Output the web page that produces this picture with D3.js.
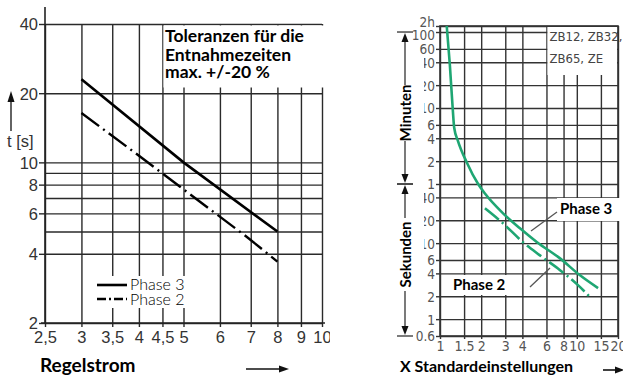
<!DOCTYPE html>
<html>
<head>
<meta charset="utf-8">
<script src="https://cdn.jsdelivr.net/npm/d3@7"></script>
<style>
  body { margin: 0; background: #fff; }
  svg { display: block; }
</style>
</head>
<body>
<script>
// ---- left chart data (Regelstrom vs. t [s]) ----
const leftXTicks = [2.5, 3, 3.5, 4, 4.5, 5, 6, 7, 8, 9, 10];
const leftXLabels = ['2,5', '3', '3,5', '4', '4,5', '5', '6', '7', '8', '9', '10'];
const leftYGrid = [2, 4, 5, 6, 7, 8, 9, 10, 20, 40];
const leftYLabels = [40, 20, 10, 8, 6, 4, 2];
const phase3Left = [[3, 23], [5, 10], [8, 5]];
const phase2Left = [[3, 16.4], [3.9, 11.1], [6.9, 4.7], [8, 3.7]];
const noteLines = ['Toleranzen für die', 'Entnahmezeiten', 'max. +/-20 %'];

// ---- right chart data (X Standardeinstellungen vs. time in seconds) ----
const rightXTicks = [1, 1.5, 2, 3, 4, 6, 8, 10, 15, 20];
const rightYTicks = [7200, 6000, 3600, 2400, 1200, 600, 360, 240, 120, 60, 40, 20, 10, 6, 4, 2, 1, 0.6];
const rightYLabels = ['2h', '100', '60', '40', '20', '10', '6', '4', '2', '1', '40', '20', '10', '6', '4', '2', '1', '0.6'];
const phase3Right = [[1.12, 7200], [1.18, 2230], [1.24, 570], [1.27, 330], [1.35, 224], [1.57, 115],
  [1.9, 60], [2.13, 45], [2.89, 24.7], [3.84, 15.7], [5.12, 10.3], [7.54, 6.3], [10.5, 3.8], [14.3, 2.56]];
const phase2Right = [[2.13, 28.7], [2.89, 18.2], [4.04, 10.3], [5.38, 6.9], [7.54, 4.41], [10.2, 2.8], [12.5, 1.95]];
const boxLines = ['ZB12, ZB32,', 'ZB65, ZE'];

const svg = d3.select('body').append('svg')
  .attr('width', 623)
  .attr('height', 378);

const bold = 'Lato, "Open Sans", sans-serif';
const green = '#1fa673';

function arrowHead(g, x, y, dir, len, half) {
  // dir: 'up' | 'down' | 'right'
  let pts;
  if (dir === 'up') pts = [[x, y], [x - half, y + len], [x + half, y + len]];
  else if (dir === 'down') pts = [[x, y], [x - half, y - len], [x + half, y - len]];
  else pts = [[x, y], [x - len, y - half], [x - len, y + half]];
  g.append('path').attr('d', d3.line()(pts) + 'Z').attr('fill', '#111');
}

// ================= LEFT CHART =================
svg.append('clipPath').attr('id', 'clipL')
  .append('rect').attr('x', 0).attr('y', 0).attr('width', 330).attr('height', 378);
const gL = svg.append('g').attr('clip-path', 'url(#clipL)');

const xL = d3.scaleLog().domain([2.5, 10]).range([45, 322]);
const yL = d3.scaleLog().domain([2, 40]).range([323, 24]);
const wL = xL.range()[1] - xL.range()[0];
const hL = yL.range()[0] - yL.range()[1];

// horizontal grid
gL.append('g')
  .attr('transform', 'translate(' + xL.range()[0] + ',0)')
  .call(d3.axisLeft(yL).tickValues(leftYGrid).tickSizeInner(-wL).tickSizeOuter(0).tickFormat(''))
  .call(g => g.select('.domain').remove())
  .selectAll('line').attr('stroke', '#2a2a2a').attr('stroke-width', 1.4);

// vertical grid
gL.append('g')
  .attr('transform', 'translate(0,' + yL.range()[0] + ')')
  .call(d3.axisBottom(xL).tickValues(leftXTicks).tickSizeInner(-hL).tickSizeOuter(0).tickFormat(''))
  .call(g => g.select('.domain').remove())
  .selectAll('line').attr('stroke', '#2a2a2a').attr('stroke-width', 1.4);

// white note box
gL.append('rect')
  .attr('x', xL(4.5) + 1).attr('y', yL(40) + 1.5)
  .attr('width', 170).attr('height', 62)
  .attr('fill', '#fff');
gL.selectAll('text.note')
  .data(noteLines)
  .enter()
  .append('text')
  .attr('class', 'note')
  .attr('x', 165)
  .attr('y', (d, i) => [42, 61, 78][i])
  .attr('font-family', bold)
  .attr('font-weight', 700)
  .attr('font-size', 17.5)
  .attr('fill', '#000')
  .text(d => d);

// y axis labels + ticks
const yAxL = gL.append('g')
  .attr('transform', 'translate(' + xL.range()[0] + ',0)')
  .call(d3.axisLeft(yL).tickValues(leftYLabels).tickSize(6).tickFormat(d3.format('d')));
yAxL.select('.domain').remove();
yAxL.selectAll('line').attr('stroke', '#2a2a2a').attr('stroke-width', 1.4);
yAxL.selectAll('text')
  .attr('x', -7).attr('dy', '0.36em')
  .attr('font-family', '"Liberation Sans", Arial, sans-serif')
  .attr('font-size', 16.5)
  .attr('fill', '#333');

// x axis labels + ticks
const xAxL = gL.append('g')
  .attr('transform', 'translate(0,' + yL.range()[0] + ')')
  .call(d3.axisBottom(xL).tickValues(leftXTicks).tickSize(4).tickFormat((d, i) => leftXLabels[i]));
xAxL.select('.domain').remove();
xAxL.selectAll('line').attr('stroke', '#2a2a2a').attr('stroke-width', 1.4);
xAxL.selectAll('text')
  .attr('y', 8).attr('dy', '0.71em')
  .attr('font-family', '"Liberation Sans", Arial, sans-serif')
  .attr('font-size', 16.5)
  .attr('fill', '#333');

// frame lines
gL.append('line')
  .attr('x1', xL(2.5)).attr('x2', xL(2.5)).attr('y1', 7).attr('y2', yL(2))
  .attr('stroke', '#222').attr('stroke-width', 1.6);
gL.append('line')
  .attr('x1', xL(2.5) - 4).attr('x2', xL(10) + 3).attr('y1', yL(2)).attr('y2', yL(2))
  .attr('stroke', '#222').attr('stroke-width', 1.6);

// curves
const lineL = d3.line().x(d => xL(d[0])).y(d => yL(d[1]));
gL.append('path').datum(phase3Left)
  .attr('d', lineL).attr('fill', 'none')
  .attr('stroke', '#000').attr('stroke-width', 2.6);
gL.append('path').datum(phase2Left)
  .attr('d', lineL).attr('fill', 'none')
  .attr('stroke', '#000').attr('stroke-width', 2.4)
  .attr('stroke-dasharray', '22,5,2,5');

// legend
gL.append('rect').attr('x', 95).attr('y', 276).attr('width', 92).attr('height', 32).attr('fill', '#fff');
const legend = [{ name: 'Phase 3', dash: null }, { name: 'Phase 2', dash: '9,3,2,3' }];
legend.forEach((d, i) => {
  const y = 285 + i * 14;
  gL.append('line')
    .attr('x1', 97).attr('x2', 127).attr('y1', y).attr('y2', y)
    .attr('stroke', '#000').attr('stroke-width', 2.6)
    .attr('stroke-dasharray', d.dash);
  gL.append('text')
    .attr('x', 130).attr('y', 290 + i * 15)
    .attr('font-family', bold)
    .attr('font-weight', 300)
    .attr('font-size', 16)
    .attr('fill', '#000')
    .text(d.name);
});

// axis titles
gL.append('text')
  .attr('x', 7).attr('y', 147)
  .attr('font-family', '"Liberation Sans", Arial, sans-serif')
  .attr('font-size', 16.5).attr('fill', '#333')
  .text('t [s]');
gL.append('line').attr('x1', 11).attr('x2', 11).attr('y1', 100).attr('y2', 131)
  .attr('stroke', '#222').attr('stroke-width', 1.4);
arrowHead(gL, 11, 91, 'up', 11, 3.5);

gL.append('text')
  .attr('x', 40).attr('y', 372)
  .attr('font-family', bold).attr('font-weight', 700)
  .attr('font-size', 19).attr('fill', '#000')
  .text('Regelstrom');
gL.append('line').attr('x1', 246).attr('x2', 280).attr('y1', 369).attr('y2', 369)
  .attr('stroke', '#111').attr('stroke-width', 1.6);
arrowHead(gL, 289, 369, 'right', 10, 3.5);

// ================= RIGHT CHART =================
const gR = svg.append('g');
const xR = d3.scaleLog().domain([1, 20]).range([440, 618]);
const yR = d3.scaleLog().domain([0.6, 7200]).range([336, 26]);
const wR = xR.range()[1] - xR.range()[0];
const hR = yR.range()[0] - yR.range()[1];

gR.append('g')
  .attr('transform', 'translate(' + xR.range()[0] + ',0)')
  .call(d3.axisLeft(yR).tickValues(rightYTicks).tickSizeInner(-wR).tickSizeOuter(0).tickFormat(''))
  .call(g => g.select('.domain').remove())
  .selectAll('line').attr('stroke', '#333').attr('stroke-width', 1.4);

gR.append('g')
  .attr('transform', 'translate(0,' + yR.range()[0] + ')')
  .call(d3.axisBottom(xR).tickValues(rightXTicks).tickSizeInner(-hR).tickSizeOuter(0).tickFormat(''))
  .call(g => g.select('.domain').remove())
  .selectAll('line').attr('stroke', '#333').attr('stroke-width', 1.4);

// ZB box
gR.append('rect')
  .attr('x', xR(6) + 1).attr('y', yR(7200) + 1)
  .attr('width', xR(20) - xR(6) - 2).attr('height', 48)
  .attr('fill', '#fff');
gR.selectAll('text.zb')
  .data(boxLines)
  .enter()
  .append('text')
  .attr('class', 'zb')
  .attr('x', xR(6) + 3)
  .attr('y', (d, i) => 41 + i * 22)
  .attr('font-family', '"Liberation Sans Narrow", "DejaVu Sans Condensed", sans-serif')
  .attr('font-size', 13)
  .attr('fill', '#444')
  .text(d => d);

// y labels
const yAxR = gR.append('g')
  .attr('transform', 'translate(' + xR.range()[0] + ',0)')
  .call(d3.axisLeft(yR).tickValues(rightYTicks).tickSize(4).tickFormat((d, i) => rightYLabels[i]));
yAxR.select('.domain').remove();
yAxR.selectAll('line').attr('stroke', '#333').attr('stroke-width', 1.4);
yAxR.selectAll('text')
  .attr('x', -5)
  .attr('dy', (d, i) => i === 0 ? '0.02em' : i === 1 ? '0.55em' : '0.36em')
  .attr('font-family', '"DejaVu Sans Condensed", "Liberation Sans Narrow", sans-serif')
  .attr('font-size', 13.5)
  .attr('fill', '#555');

// x labels
const xAxR = gR.append('g')
  .attr('transform', 'translate(0,' + yR.range()[0] + ')')
  .call(d3.axisBottom(xR).tickValues(rightXTicks).tickSize(3).tickFormat(d => String(d)));
xAxR.select('.domain').remove();
xAxR.selectAll('line').attr('stroke', '#333').attr('stroke-width', 1.4);
xAxR.selectAll('text')
  .attr('y', 5).attr('dy', '0.71em')
  .attr('font-family', '"Liberation Sans Narrow", "DejaVu Sans Condensed", sans-serif')
  .attr('font-size', 14)
  .attr('fill', '#555');

// frame
gR.append('rect')
  .attr('x', xR(1)).attr('y', yR(7200))
  .attr('width', wR).attr('height', hR)
  .attr('fill', 'none').attr('stroke', '#333').attr('stroke-width', 1.6);

// masks over first digits of the labels next to the rotated titles
gR.append('rect').attr('x', 413).attr('y', yR(2400) - 7).attr('width', 11).attr('height', yR(600) - yR(2400) + 14).attr('fill', '#fff');
gR.append('rect').attr('x', 413).attr('y', yR(40) - 7).attr('width', 11).attr('height', yR(10) - yR(40) + 14).attr('fill', '#fff');

// range brackets
function bracket(top, bottom, label, gapTop, gapBottom) {
  const x = 405;
  const yt = yR(top), yb = yR(bottom);
  gR.append('line').attr('x1', 397).attr('x2', 413).attr('y1', yt).attr('y2', yt)
    .attr('stroke', '#333').attr('stroke-width', 1.3);
  gR.append('line').attr('x1', 397).attr('x2', 413).attr('y1', yb).attr('y2', yb)
    .attr('stroke', '#333').attr('stroke-width', 1.3);
  gR.append('line').attr('x1', x).attr('x2', x).attr('y1', yt + 6).attr('y2', gapTop)
    .attr('stroke', '#333').attr('stroke-width', 1.3);
  gR.append('line').attr('x1', x).attr('x2', x).attr('y1', gapBottom).attr('y2', yb - 6)
    .attr('stroke', '#333').attr('stroke-width', 1.3);
  arrowHead(gR, x, yt + 1, 'up', 9, 3.5);
  arrowHead(gR, x, yb - 1, 'down', 9, 3.5);
  gR.append('text')
    .attr('transform', 'translate(' + (x + 5.5) + ',' + ((gapTop + gapBottom) / 2) + ') rotate(-90)')
    .attr('text-anchor', 'middle')
    .attr('font-family', bold).attr('font-weight', 700)
    .attr('font-size', 15).attr('fill', '#000')
    .text(label);
}
bracket(6000, 60, 'Minuten', 85, 141);
bracket(60, 0.6, 'Sekunden', 218, 291);

// curves
const lineR = d3.line().x(d => xR(d[0])).y(d => yR(d[1])).curve(d3.curveMonotoneX);
gR.append('path').datum(phase3Right)
  .attr('d', lineR).attr('fill', 'none')
  .attr('stroke', green).attr('stroke-width', 2.6);
gR.append('path').datum(phase2Right)
  .attr('d', lineR).attr('fill', 'none')
  .attr('stroke', green).attr('stroke-width', 2.6)
  .attr('stroke-dasharray', '18,4,2,4');

// callouts
gR.append('rect').attr('x', 557).attr('y', 198).attr('width', 66).attr('height', 23).attr('fill', '#fff');
gR.append('text').attr('x', 560).attr('y', 214)
  .attr('font-family', bold).attr('font-weight', 700)
  .attr('font-size', 15).attr('fill', '#000')
  .text('Phase 3');
gR.append('line').attr('x1', 531).attr('y1', 231).attr('x2', 557).attr('y2', 212)
  .attr('stroke', '#555').attr('stroke-width', 1.3);

gR.append('rect').attr('x', 451).attr('y', 275).attr('width', 71).attr('height', 20).attr('fill', '#fff');
gR.append('text').attr('x', 453).attr('y', 290)
  .attr('font-family', bold).attr('font-weight', 700)
  .attr('font-size', 15).attr('fill', '#000')
  .text('Phase 2');
gR.append('line').attr('x1', 530).attr('y1', 287).attr('x2', 550).attr('y2', 268)
  .attr('stroke', '#555').attr('stroke-width', 1.3);

gR.append('text')
  .attr('x', 400).attr('y', 372)
  .attr('font-family', bold).attr('font-weight', 700)
  .attr('font-size', 16).attr('fill', '#000')
  .text('X Standardeinstellungen');
gR.append('line').attr('x1', 603).attr('x2', 616).attr('y1', 370).attr('y2', 370)
  .attr('stroke', '#111').attr('stroke-width', 1.6);
arrowHead(gR, 624, 370, 'right', 9, 3.5);
</script>
</body>
</html>
